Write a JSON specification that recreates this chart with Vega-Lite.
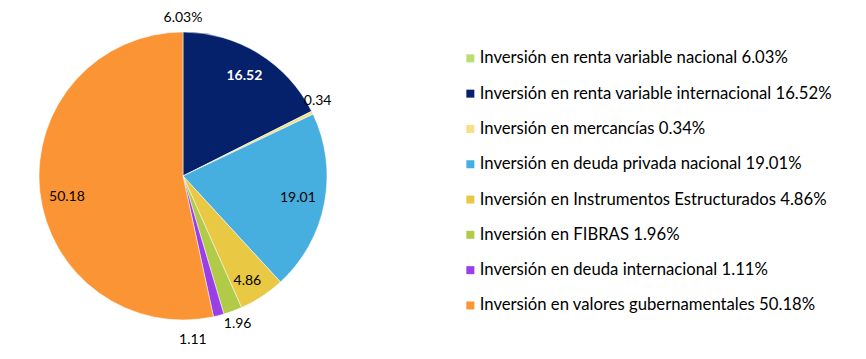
{
  "$schema": "https://vega.github.io/schema/vega-lite/v6.json",
  "width": 366,
  "height": 352,
  "padding": 0,
  "background": "white",
  "config": {"view": {"stroke": null}, "font": "Lato"},
  "data": {
    "values": [
      {"order": 1, "name": "Inversión en renta variable nacional 6.03%", "value": 6.03, "slice": 0, "label": "6.03%", "pos": "out"},
      {"order": 2, "name": "Inversión en renta variable internacional 16.52%", "value": 16.52, "slice": 16.52, "label": "16.52", "pos": "bold"},
      {"order": 3, "name": "Inversión en mercancías 0.34%", "value": 0.34, "slice": 0.34, "label": "0.34", "pos": "out2"},
      {"order": 4, "name": "Inversión en deuda privada nacional 19.01%", "value": 19.01, "slice": 19.01, "label": "19.01", "pos": "in"},
      {"order": 5, "name": "Inversión en Instrumentos Estructurados 4.86%", "value": 4.86, "slice": 4.86, "label": "4.86", "pos": "in2"},
      {"order": 6, "name": "Inversión en FIBRAS 1.96%", "value": 1.96, "slice": 1.96, "label": "1.96", "pos": "out"},
      {"order": 7, "name": "Inversión en deuda internacional 1.11%", "value": 1.11, "slice": 1.11, "label": "1.11", "pos": "leader"},
      {"order": 8, "name": "Inversión en valores gubernamentales 50.18%", "value": 50.18, "slice": 50.18, "label": "50.18", "pos": "big"}
    ]
  },
  "encoding": {
    "theta": {"field": "slice", "type": "quantitative", "stack": true},
    "order": {"field": "order", "type": "quantitative"}
  },
  "layer": [
    {
      "mark": {"type": "arc", "outerRadius": 144, "stroke": "#ffffff", "strokeWidth": 0.5},
      "encoding": {
        "color": {
          "field": "name",
          "type": "nominal",
          "scale": {
            "domain": [
              "Inversión en renta variable nacional 6.03%",
              "Inversión en renta variable internacional 16.52%",
              "Inversión en mercancías 0.34%",
              "Inversión en deuda privada nacional 19.01%",
              "Inversión en Instrumentos Estructurados 4.86%",
              "Inversión en FIBRAS 1.96%",
              "Inversión en deuda internacional 1.11%",
              "Inversión en valores gubernamentales 50.18%"
            ],
            "range": ["#b8de74", "#06216b", "#f6e085", "#47aee0", "#e9c843", "#b1cb49", "#9a3fe6", "#fb9434"]
          },
          "legend": {
            "title": null,
            "orient": "none",
            "legendX": 462,
            "legendY": 50,
            "padding": 0,
            "symbolType": "square",
            "symbolSize": 64,
            "symbolStrokeWidth": 0,
            "labelFont": "Lato",
            "labelFontSize": 16.7,
            "labelColor": "#000000",
            "labelOffset": 1,
            "labelLimit": 0,
            "rowPadding": 17.3
          }
        }
      }
    },
    {
      "mark": {"type": "text", "radius": 117, "font": "Lato", "fontSize": 14, "fontWeight": "bold", "color": "#ffffff"},
      "encoding": {"text": {"condition": {"test": "datum.pos == 'bold'", "field": "label"}, "value": ""}}
    },
    {
      "mark": {"type": "text", "radius": 117, "font": "Lato", "fontSize": 14, "color": "#000000"},
      "encoding": {"text": {"condition": {"test": "datum.pos == 'in'", "field": "label"}, "value": ""}}
    },
    {
      "mark": {"type": "text", "radius": 123, "thetaOffset": 0.03, "font": "Lato", "fontSize": 14, "color": "#000000"},
      "encoding": {"text": {"condition": {"test": "datum.pos == 'in2'", "field": "label"}, "value": ""}}
    },
    {
      "mark": {"type": "text", "radius": 118, "thetaOffset": -0.073, "font": "Lato", "fontSize": 14, "color": "#000000"},
      "encoding": {"text": {"condition": {"test": "datum.pos == 'big'", "field": "label"}, "value": ""}}
    },
    {
      "mark": {"type": "text", "radius": 158, "font": "Lato", "fontSize": 14, "color": "#000000"},
      "encoding": {"text": {"condition": {"test": "datum.pos == 'out'", "field": "label"}, "value": ""}}
    },
    {
      "mark": {"type": "text", "radius": 154, "thetaOffset": -0.052, "font": "Lato", "fontSize": 14, "color": "#000000"},
      "encoding": {"text": {"condition": {"test": "datum.pos == 'out2'", "field": "label"}, "value": ""}}
    },
    {
      "mark": {"type": "text", "radius": 164, "thetaOffset": 0.19, "font": "Lato", "fontSize": 14, "color": "#000000"},
      "encoding": {"text": {"condition": {"test": "datum.pos == 'leader'", "field": "label"}, "value": ""}}
    }
  ]
}
